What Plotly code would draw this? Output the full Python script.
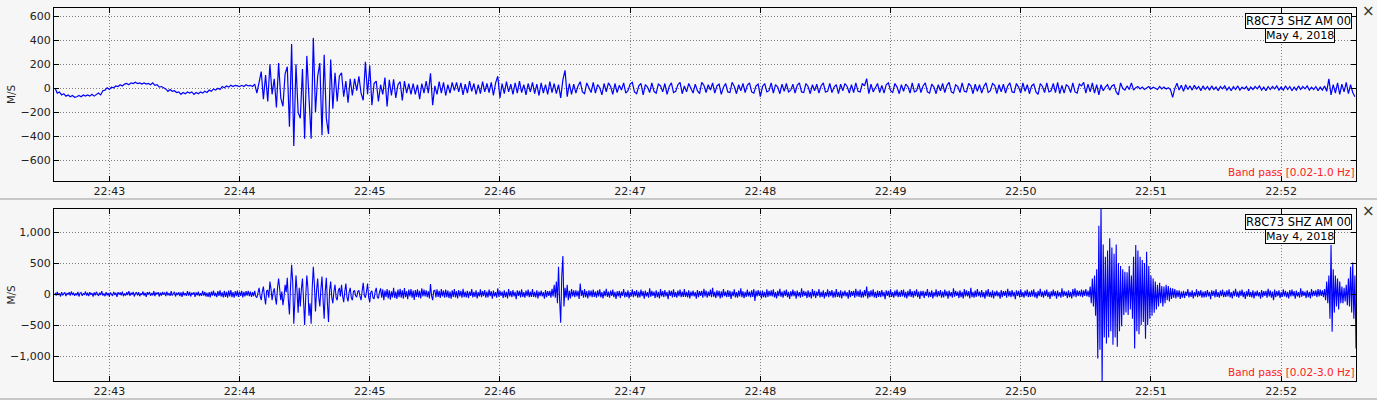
import plotly.graph_objects as go
import pandas as pd

# ---------------- data ----------------
START = "2018-05-04 22:42:35"
X_RANGE = ["2018-05-04 22:42:34.5", "2018-05-04 22:52:34.5"]
STATION = "R8C73 SHZ AM 00"
DATE_LABEL = "May 4, 2018"
FILTER_TOP = "Band pass [0.02-1.0 Hz]"
FILTER_BOTTOM = "Band pass [0.02-3.0 Hz]"
UNITS = "M/S"

# top trace: 1 sample / s
top_values = [
    0, -40, -30, -55, -45, -65, -55, -70, -60, -75, -70, -60, -70, -55, -65, -55, -65, -50, -65, -55,
    -40, -55, -20, -15, 5, -10, 10, 5, 20, 15, 30, 20, 35, 40, 30, 45, 40, 50, 40, 45,
    35, 45, 35, 40, 30, 45, 25, 30, 10, 15, 5, -5, -25, -10, -25, -20, -35, -30, -50, -35,
    -45, -30, -40, -30, -50, -35, -45, -30, -40, -25, -35, -15, -25, -5, -15, 0, -10, 15, 5, 20,
    10, 25, 15, 25, 20, 15, 25, 15, 30, 20, 25, 15, 35, -40, 50, 140, -90, 110, -110, 200,
    -50, 80, -160, 210, -80, -150, 120, 180, -320, 370, -480, 200, -200, -250, 160, -420, 270, -130, -420, 420,
    -200, 100, 210, -390, 280, -250, -380, 240, -170, 130, -110, 100, 130, -70, 60, -120, 80, -60, 80, -20,
    100, -40, -100, 220, -50, 190, -140, 40, 60, -110, 30, -50, 90, -150, 70, -60, 75, -80, 30, 55,
    -100, 60, -40, 40, -50, 40, -50, 30, -90, 40, -40, 60, -40, 125, -140, 20, -50, 55, -40, 50,
    -60, 30, -40, 50, -20, 50, -30, 45, -55, 35, -40, 60, -25, 40, -50, 30, -45, 55, -30, 40,
    -35, 50, -60, 45, 100, -80, 40, -45, 55, -30, 35, -50, 45, -40, 60, -35, 30, -55, 40, -30,
    50, -45, 35, -60, 45, -40, 30, -50, 55, -35, 40, -45, 30, -80, 70, 150, -70, 40, -50, 35,
    -40, 20, 55, -30, -45, 45, 10, -35, 50, -40, 30, 5, -55, 40, -30, 45, 15, -50, 40, -35,
    25, -15, 45, -40, -20, 35, 50, -30, -45, 20, 40, -55, 30, 10, -35, 45, -25, -40, 35, 20,
    -30, 40, -50, 15, 45, -35, -25, 30, 50, -45, 20, -30, 40, 5, -40, 35, -20, -45, 50, 25,
    -35, 30, -15, 45, -40, 20, 35, -50, 10, 40, -30, -35, 50, 15, -45, 30, -20, 40, -35, 25,
    45, -30, -40, 20, 35, -70, 15, 40, -30, -20, 45, -40, 30, 10, -45, 35, -25, 40, -30, -15,
    35, -40, 25, 45, -30, -35, 40, 15, -45, 30, -20, 35, -40, 20, 45, -30, -25, 40, -35, 10,
    30, -45, 35, -20, 40, 15, -40, 30, -35, 45, -25, -30, 40, 20, 80, -45, 35, -30, 10, 40,
    -35, 25, -40, 30, 45, -20, -35, 40, 10, -45, 30, -25, 35, 15, -40, 45, -30, -20, 40, -35,
    20, 45, -30, -40, 35, 10, -45, 30, -20, 40, -35, 25, 50, -30, -40, 30, 15, -35, 45, -25,
    -30, 40, 20, -45, 35, -25, 30, -40, 15, 45, -35, -20, 40, 25, -45, 30, -30, 35, -40, 20,
    45, -30, -35, 40, 10, -40, 45, -25, 30, -45, 20, 35, -30, -50, 40, 15, -35, 45, -30, -20,
    40, -35, 50, -45, 25, -40, 30, 15, -35, 45, -30, -40, 35, 20, 50, -40, 35, -30, 45, -40,
    30, -55, 30, -20, 10, 30, -15, 20, 30, -30, -55, 45, 0, -15, 20, -10, 45, -15, 5, 15,
    -5, 10, -10, 5, 15, -5, 10, 0, -10, 15, -5, 10, -5, 5, -10, -75, 0, 42, -15, 25,
    -25, 30, -10, 20, -15, 25, -5, 15, -20, 20, -10, 15, -15, 20, -10, 10, -20, 15, -5, 20,
    -15, 10, -20, 15, -10, 20, -15, 10, -5, 15, -20, 10, -10, 15, -5, 20, -15, 10, -20, 15,
    -10, 15, -5, 20, -15, 10, -15, 20, -10, 15, -20, 10, -15, 20, -10, 15, -5, 20, -15, 10,
    -10, 15, -20, 10, -15, 20, -25, 78, -55, 30, -40, 45, -50, 35, -30, 50, -45, 30, -35, -70,
]

# bottom trace: 2 samples / s
bottom_values = [
    20, -25, 35, -15, 10, -40, 30, -20, 5, 25, -35, 15, -10, 30, -25, 40, -15, 20, -30, 10,
    -20, 35, -40, 15, 25, -30, 10, -15, 40, -25, 20, -35, 30, -10, 15, -40, 25, -20, 35, -5,
    -30, 20, -15, 45, -25, 10, -35, 30, -20, 15, -40, 25, 5, -30, 35, -15, 20, -45, 30, -10,
    25, -20, 40, -35, 10, -25, 30, -15, 45, -30, 20, -10, 35, -40, 15, 25, -20, 30, -35, 10,
    -15, 40, -25, 20, -45, 30, -10, 35, -30, 15, -20, 45, -35, 25, -5, 30, -40, 20, -25, 35,
    -10, 25, -35, 40, -20, 15, -30, 45, -25, 10, 35, -40, 20, -15, 30, -35, 25, -45, 40, -20,
    15, -30, 45, -25, 35, -40, 20, -10, 30, -45, 25, -20, 40, -35, 15, -30, 50, -25, 35, -40,
    20, -45, 30, -55, 40, -25, 55, -35, 20, -50, 45, -30, 60, -40, 25, -55, 50, -45, 35, -60,
    55, -40, 65, -50, 30, -60, 45, -35, 55, -45, 40, -30, 50, -55, 35, -40, 45, -25, 50, -35,
    40, -45, 30, -35, 50, -40, -60, 20, 100, -30, -100, 40, 120, -40, -170, 50, 60, -60, 200, 80,
    -100, 30, 90, -60, -170, 100, 250, 80, -100, 40, -180, -50, 150, 30, 260, -100, -330, 120, 470, 200,
    -480, -100, 300, 50, -300, 100, -200, 80, 250, -100, -500, -50, 300, 100, -350, -150, -480, 100, 440, 150,
    -280, 60, 250, -50, -200, 80, 280, -100, -400, 50, 260, -150, -450, 60, 200, -50, -150, 40, 150, -60,
    -100, 50, 100, -40, 150, -30, -130, 40, 170, -50, -120, 30, 100, -60, -100, 40, 60, -30, -50, 40,
    60, -40, -100, 50, 180, -20, -60, 40, 170, -50, -130, 30, 50, -60, -80, 40, 100, -50, -70, 30,
    90, -60, 75, -100, 55, -45, 80, -70, 60, -90, 45, -55, 100, -65, 40, -80, 70, -50, 85, -60,
    60, -75, 95, -50, 45, -85, 70, -40, 80, -60, 55, -95, 65, -45, 75, -55, 50, -70, 90, -40,
    70, -40, 60, -50, 45, -70, 160, -30, -100, 50, 60, -55, 75, -45, 50, -65, 80, -40, 55, -60,
    70, -50, 55, -65, 40, -75, 60, -45, 80, -55, 45, -70, 65, -40, 50, -60, 85, -50, 40, -55,
    50, -65, 40, -30, 80, -55, 35, -45, 60, -70, 30, -40, 75, -50, 45, -35, 65, -60, 40, -55,
    70, -35, 45, -75, 55, -40, 30, -60, 90, -45, 50, -30, 40, -65, 60, -50, 35, -70, 80, -40,
    45, -50, 65, -40, 35, -85, 60, -30, 50, -55, 75, -45, 30, -60, 55, -35, 70, -50, 40, -45,
    80, -45, 35, -55, 60, -70, 40, -35, 55, -40, 30, -75, 65, -50, 45, -30, 50, -60, 85, -40,
    150, -60, 200, -150, 440, -100, -463, 300, 613, -200, 100, -60, 150, -100, 50, -70, 80, -40, 60, -50,
    60, -40, 50, -80, 170, -30, 60, -60, 80, -50, 45, -70, 60, -40, 55, -50, 70, -45, 40, -60,
    60, -40, 75, -55, 30, -70, 50, -35, 85, -45, 40, -60, 55, -30, 70, -50, 35, -80, 45, -40,
    50, -65, 40, -30, 80, -55, 35, -45, 60, -70, 30, -40, 75, -50, 45, -35, 65, -60, 40, -55,
    70, -35, 45, -75, 55, -40, 30, -60, 90, -45, 50, -30, 40, -65, 60, -50, 35, -70, 80, -40,
    45, -50, 65, -40, 35, -85, 60, -30, 50, -55, 75, -45, 30, -60, 55, -35, 70, -50, 40, -45,
    80, -45, 35, -55, 60, -70, 40, -35, 55, -40, 30, -75, 65, -50, 45, -30, 50, -60, 85, -40,
    55, -60, 40, -35, 70, -50, 100, -45, 35, -65, 60, -40, 50, -70, 45, -55, 80, -35, 40, -50,
    65, -45, 50, -80, 40, -35, 75, -55, 30, -60, 55, -40, 90, -50, 45, -65, 35, -45, 70, -40,
    40, -55, 60, -45, 80, -110, 50, -40, 65, -30, 45, -70, 55, -50, 35, -60, 75, -45, 50, -35,
    60, -40, 75, -55, 30, -70, 50, -35, 85, -45, 40, -60, 55, -30, 70, -50, 35, -80, 45, -40,
    70, -35, 45, -75, 55, -40, 30, -60, 90, -45, 50, -30, 40, -65, 60, -50, 35, -70, 80, -40,
    50, -65, 40, -30, 80, -55, 35, -45, 60, -70, 30, -40, 75, -50, 45, -35, 65, -60, 40, -55,
    80, -45, 35, -55, 60, -70, 40, -35, 55, -40, 30, -75, 65, -50, 45, -30, 50, -60, 85, -40,
    50, -45, 70, -60, 40, -55, 65, -35, 120, -70, 45, -50, 60, -40, 75, -55, 35, -65, 55, -45,
    45, -50, 65, -40, 35, -85, 60, -30, 50, -55, 75, -45, 30, -60, 55, -35, 70, -50, 40, -45,
    65, -40, 70, -55, 35, -70, 50, -40, 80, -45, 45, -60, 50, -35, 75, -50, 40, -80, 50, -35,
    50, -65, 40, -30, 80, -55, 35, -45, 60, -70, 30, -40, 75, -50, 45, -35, 65, -60, 40, -55,
    70, -35, 45, -75, 55, -40, 30, -60, 90, -45, 50, -30, 40, -65, 60, -50, 35, -70, 80, -40,
    60, -40, 45, -70, 100, -50, 35, -60, 55, -45, 80, -35, 40, -55, 65, -50, 30, -75, 60, -40,
    80, -45, 35, -55, 60, -70, 40, -35, 55, -40, 30, -75, 65, -50, 45, -30, 50, -60, 85, -40,
    45, -50, 65, -40, 35, -85, 60, -30, 50, -55, 75, -45, 30, -60, 55, -35, 70, -50, 40, -45,
    60, -40, 75, -55, 30, -70, 50, -35, 85, -45, 40, -60, 55, -30, 70, -50, 35, -80, 45, -40,
    70, -35, 45, -75, 55, -40, 30, -60, 90, -45, 50, -30, 40, -65, 60, -50, 35, -70, 80, -40,
    90, -50, 60, -30, 50, -40, 70, -50, 60, -30, 80, -40, 50, -50, 120, -150, 250, -200, 300, -350,
    400, -1040, 1100, -900, 1450, -1450, 800, -700, 600, -800, 700, -700, 900, -600, 750, -820, 650, -700, 800, -850,
    500, -600, 450, -520, 400, -340, 360, -300, 350, -340, 450, -250, 300, -400, 600, -880, 790, -600, 700, -650,
    600, -500, 550, -450, 500, -720, 680, -500, 450, -400, 300, -350, 250, -300, 200, -250, 150, -200, 180, -150,
    130, -200, 120, -150, 150, -100, 130, -120, 100, -80, 90, -60, 80, -70, 60, -50, 60, -80, 40, -60,
    50, -65, 40, -30, 80, -55, 35, -45, 60, -70, 30, -40, 75, -50, 45, -35, 65, -60, 40, -55,
    45, -50, 65, -40, 35, -85, 60, -30, 50, -55, 75, -45, 30, -60, 55, -35, 70, -50, 40, -45,
    60, -40, 75, -55, 30, -70, 50, -35, 85, -45, 40, -60, 55, -30, 70, -50, 35, -80, 45, -40,
    80, -45, 35, -55, 60, -70, 40, -35, 55, -40, 30, -75, 65, -50, 45, -30, 50, -60, 85, -40,
    55, -60, 40, -100, 70, -50, 45, -35, 60, -65, 30, -45, 75, -40, 50, -55, 35, -70, 65, -40,
    70, -35, 45, -75, 55, -40, 30, -60, 90, -45, 50, -30, 40, -65, 60, -50, 35, -70, 80, -40,
    50, -30, 60, -50, 80, -40, 70, -30, 60, -50, 80, -100, 200, -150, 300, -400, 790, -610, 400, -300,
    300, -200, 250, -250, 200, -150, 120, -150, 100, -120, 150, -180, 250, -200, 440, -300, 510, -400, 300, -880,
]

top_range = [-772, 669]
bottom_range = [-1403, 1371]
top_ticks = [-600, -400, -200, 0, 200, 400, 600]
bottom_ticks = [-1000, -500, 0, 500, 1000]

# ---------------- figure ----------------
W, H = 1377, 400
ML, MR, MT, MB = 54, 21, 8, 19
PW = W - ML - MR
PH = H - MT - MB


def py(px_y):
    """pixel y (from top) -> paper y"""
    return (H - MB - px_y) / PH


def pxx(px_x):
    return (px_x - ML) / PW


BG = "#f6f6f6"
FONT = "DejaVu Sans"
blue = "#0000ff"

top_t = pd.date_range(START, periods=len(top_values), freq="s")
bot_t = pd.date_range(START, periods=len(bottom_values), freq="500ms")

fig = go.Figure()
fig.add_trace(go.Scatter(x=top_t, y=top_values, mode="lines",
                         line=dict(color=blue, width=1.2), xaxis="x", yaxis="y",
                         hoverinfo="skip", showlegend=False))
fig.add_trace(go.Scatter(x=bot_t, y=bottom_values, mode="lines",
                         line=dict(color=blue, width=1.1), xaxis="x2", yaxis="y2",
                         hoverinfo="skip", showlegend=False))

axis_common = dict(
    showline=True, linecolor="black", linewidth=1, mirror="ticks",
    ticks="inside", ticklen=5, tickcolor="black", tickwidth=1,
    showgrid=True, gridcolor="#808080", griddash="1px,2px", gridwidth=1,
    zeroline=False, tickfont=dict(family=FONT, size=11, color="#222222"),
)

top_dom = [py(181), py(8)]
bot_dom = [py(381), py(209)]

fig.update_layout(
    width=W, height=H,
    margin=dict(l=ML, r=MR, t=MT, b=MB, autoexpand=False),
    paper_bgcolor=BG, plot_bgcolor=BG,
    font=dict(family=FONT, size=11, color="#222222"),
    showlegend=False,
    xaxis=dict(axis_common, type="date", range=X_RANGE, dtick=60000,
               tickformat="%H:%M", anchor="y", domain=[0, 1]),
    yaxis=dict(axis_common, range=top_range, tickvals=top_ticks,
               tickformat=",d", anchor="x", domain=top_dom),
    xaxis2=dict(axis_common, type="date", range=X_RANGE, dtick=60000,
                tickformat="%H:%M", anchor="y2", domain=[0, 1]),
    yaxis2=dict(axis_common, range=bottom_range, tickvals=bottom_ticks,
                tickformat=",d", anchor="x2", domain=bot_dom),
)

annotations = []
for dom, yref, ftxt in ((top_dom, "y domain", FILTER_TOP), (bot_dom, "y2 domain", FILTER_BOTTOM)):
    xref = "x domain" if yref == "y domain" else "x2 domain"
    ph = (dom[1] - dom[0]) * PH  # subplot pixel height
    annotations += [
        dict(text=STATION, xref=xref, yref=yref, x=pxx(1352), y=1 - 5.3 / ph,
             xanchor="right", yanchor="top", showarrow=False,
             font=dict(family=FONT, size=11.5, color="black"),
             bgcolor="white", bordercolor="black", borderwidth=1, borderpad=0),
        dict(text=DATE_LABEL, xref=xref, yref=yref, x=pxx(1299.7), y=1 - 20.3 / ph,
             xanchor="center", yanchor="top", showarrow=False,
             font=dict(family=FONT, size=11, color="black"),
             bgcolor="white", bordercolor="black", borderwidth=1, borderpad=0),
        dict(text=ftxt, xref=xref, yref=yref, x=1, y=0.005,
             xanchor="right", yanchor="bottom", showarrow=False,
             font=dict(family=FONT, size=10.5, color="#ff2020")),
    ]

# y-axis titles
for ycen in (94.5, 295):
    annotations.append(dict(text=UNITS, xref="paper", yref="paper", x=pxx(10.5), y=py(ycen),
                            xanchor="center", yanchor="middle", textangle=-90, showarrow=False,
                            font=dict(family=FONT, size=10.5, color="#222222")))
# close markers
for ycen in (11, 211):
    annotations.append(dict(text="×", xref="paper", yref="paper", x=pxx(1368), y=py(ycen),
                            xanchor="center", yanchor="middle", showarrow=False,
                            font=dict(family=FONT, size=15, color="#333333")))
fig.update_layout(annotations=annotations)

# panel separators
for ysep in (199, 399):
    fig.add_shape(type="line", xref="paper", yref="paper", x0=pxx(0), x1=pxx(W),
                  y0=py(ysep), y1=py(ysep), line=dict(color="#9a9a9a", width=1))

fig.write_html("out.html", config={"displayModeBar": False},
               post_script="document.body.style.margin='0';document.body.style.padding='0';")
